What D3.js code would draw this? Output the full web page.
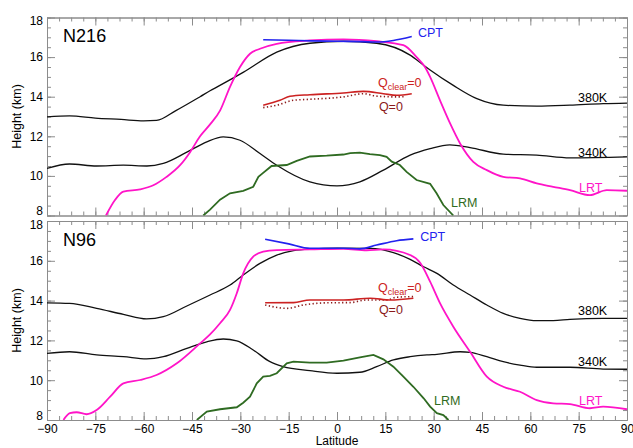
<!DOCTYPE html>
<html><head><meta charset="utf-8">
<script src="https://cdn.jsdelivr.net/npm/d3@7"></script>
<style>
html,body{margin:0;padding:0;background:#fff;}
svg text{font-family:"Liberation Sans",Arial,Helvetica,sans-serif;}
</style>
</head><body>
<svg id="chart" width="633" height="448"></svg>
<script>
// ---------- data ----------
const latTicks = [-90,-75,-60,-45,-30,-15,0,15,30,45,60,75,90];
const heightTicks = [8,10,12,14,16,18];
const panelNames = ["N216","N96"];

const n216_380K = [[-90,12.98],[-83,13.03],[-75,12.92],[-67,12.85],[-60,12.78],[-56,12.8],[-50,13.3],[-42.5,14.0],[-39.4,14.3],[-36.9,14.52],[-29,15.24],[-18.7,16.25],[-8.4,16.7],[2,16.8],[12.3,16.7],[22.7,16.1],[26.8,15.6],[28.9,15.35],[36.1,14.57],[43.4,13.9],[51.6,13.57],[62,13.52],[72.3,13.57],[82.6,13.65],[90,13.68]];
const n216_340K = [[-90,10.38],[-83,10.6],[-74.6,10.5],[-66.3,10.54],[-59,10.5],[-53.9,10.63],[-46.6,11.2],[-40.4,11.72],[-35.3,11.97],[-30.1,11.8],[-23.9,11.13],[-18.7,10.54],[-8.4,9.7],[0,9.5],[7.1,9.7],[14.4,10.29],[22.7,11.05],[28.9,11.38],[35,11.57],[41.3,11.43],[51.6,11.1],[62,11.05],[72.3,10.91],[90,10.96]];
const n216_LRT = [[-71.7,8.0],[-68.9,8.78],[-66.3,9.2],[-61.1,9.32],[-57,9.53],[-52.9,9.95],[-48.7,10.54],[-45.6,11.2],[-42.5,12.0],[-39.4,12.6],[-36.3,13.3],[-33.2,14.5],[-30.1,15.5],[-27,16.17],[-23.9,16.42],[-18.7,16.67],[-8.4,16.84],[2,16.9],[12.3,16.8],[20.6,16.6],[24.7,16.0],[27.3,15.5],[28.9,15.0],[32,13.8],[35.1,12.65],[38.2,11.64],[42.3,10.71],[46.5,10.29],[51.6,9.95],[56.8,9.87],[62,9.62],[67.1,9.45],[72.3,9.28],[78.5,9.03],[83.7,9.28],[90,9.25]];
const n216_LRM = [[-41.5,8.0],[-39.4,8.3],[-36.3,8.8],[-33.2,9.12],[-29.1,9.24],[-26,9.45],[-24.4,9.95],[-23.3,10.1],[-20.3,10.5],[-15.6,10.55],[-12.5,10.76],[-8.4,10.98],[-3.2,11.02],[2,11.08],[4.1,11.15],[7.1,11.18],[10.2,11.1],[13.3,11.05],[15.4,10.96],[17,10.72],[19.5,10.55],[21.6,10.2],[24.7,9.79],[28.9,9.6],[30.9,9.12],[33,8.53],[36.1,8.0]];
const n216_CPT = [[-22.9,16.88],[-15,16.85],[-8,16.82],[0,16.8],[8,16.78],[12.3,16.76],[17.5,16.84],[23.2,17.04]];
const n216_Qclear = [[-22.9,13.57],[-17.7,13.82],[-14.6,14.02],[-8.4,14.1],[2,14.19],[8.2,14.27],[14.4,14.15],[18.5,14.07],[23.2,14.15]];
const n216_Q0 = [[-22.9,13.45],[-18.7,13.57],[-13.5,13.82],[-8.4,13.87],[2,13.99],[8.2,14.15],[12.3,14.03],[18.5,13.99],[21,14.0]];

const n96_380K = [[-90,13.89],[-83,13.86],[-74.6,13.61],[-66.3,13.31],[-59.1,13.08],[-53.9,13.19],[-46.6,13.73],[-39.4,14.28],[-33.2,14.78],[-29.1,15.29],[-23.9,15.87],[-18.7,16.29],[-13.5,16.51],[-8.4,16.59],[0,16.63],[10.3,16.62],[17.5,16.41],[22.7,16.07],[26.9,15.7],[31,15.37],[36.1,14.78],[41.3,14.28],[46.5,13.78],[51.6,13.36],[56.8,13.11],[62,12.99],[67.1,12.99],[72.3,13.06],[82.6,13.11],[90,13.11]];
const n96_340K = [[-90,11.35],[-83,11.43],[-74.6,11.27],[-66.3,11.18],[-59.1,11.07],[-53.9,11.18],[-46.6,11.6],[-40.4,11.93],[-35.3,12.07],[-31.1,11.98],[-26,11.52],[-20.8,10.93],[-16.7,10.68],[-8.4,10.48],[0,10.35],[7.1,10.4],[12.3,10.68],[17.5,11.02],[22.7,11.18],[27.9,11.27],[31,11.3],[38.2,11.43],[41.3,11.4],[46.5,11.18],[51.6,10.93],[56.8,10.76],[62,10.65],[72.3,10.65],[82.6,10.56],[90,10.55]];
const n96_LRT = [[-84.9,8.0],[-82.9,8.34],[-80.8,8.39],[-77.7,8.29],[-74.6,8.5],[-70.4,9.17],[-66.3,9.84],[-61.1,10.01],[-56,10.26],[-49.7,10.85],[-42.5,11.85],[-39.4,12.3],[-36.3,12.86],[-33.2,13.53],[-31.1,14.37],[-29.1,15.37],[-26,16.21],[-22.9,16.46],[-18.7,16.54],[-8.4,16.57],[2,16.6],[9.2,16.53],[14.4,16.57],[22.7,16.29],[25.8,15.9],[28.9,14.95],[32,13.86],[36.1,12.69],[41.3,11.43],[46.5,10.18],[51.6,9.67],[56.8,9.42],[62,9.0],[67.1,8.84],[72.3,8.8],[78.5,8.59],[82.6,8.67],[90,8.54]];
const n96_LRM = [[-43.5,8.0],[-40.4,8.42],[-36.3,8.54],[-31.1,8.64],[-29.1,8.87],[-27,9.17],[-24.9,9.84],[-22.9,10.18],[-20.8,10.22],[-18.7,10.35],[-15.6,10.85],[-13.5,10.93],[-8.4,10.88],[-3.2,10.88],[2,10.98],[7.1,11.15],[11.3,11.27],[14.4,11.05],[17.5,10.68],[20.6,10.18],[23.7,9.67],[26.9,9.09],[28.9,8.67],[31,8.34],[33,8.25],[34.6,8.0]];
const n96_CPT = [[-22.3,17.08],[-15,16.85],[-8.4,16.63],[2,16.63],[7.1,16.6],[12.3,16.79],[18.5,17.01],[23.7,17.1]];
const n96_Qclear = [[-22.3,13.89],[-13.5,13.9],[-8.4,14.03],[2,14.03],[10.3,14.12],[16.5,14.03],[23.7,14.12]];
const n96_Q0 = [[-22.3,13.78],[-15.6,13.61],[-10.4,13.78],[-3.2,13.89],[4.1,13.9],[9.2,14.03],[15.4,14.03],[18.5,14.17],[23.7,14.2]];

// ---------- layout / style ----------
const W = 633, H = 448;
const X0 = 47, X1 = 627;
const panels = [
  {name: panelNames[0], top: 17.5, bottom: 215.5, showX: false,
   series: {k380: n216_380K, k340: n216_340K, lrt: n216_LRT, lrm: n216_LRM, cpt: n216_CPT, qc: n216_Qclear, q0: n216_Q0},
   labels: {cpt:[25.1,16.99], qc:[12.7,14.5], q0:[13.0,13.28], k380:[74.8,13.72], k340:[74.8,10.95], lrt:[75.1,9.18], lrm:[35.4,8.43], name:[-85,16.78]}},
  {name: panelNames[1], top: 221, bottom: 420, showX: true,
   series: {k380: n96_380K, k340: n96_340K, lrt: n96_LRT, lrm: n96_LRM, cpt: n96_CPT, qc: n96_Qclear, q0: n96_Q0},
   labels: {cpt:[25.8,16.99], qc:[12.7,14.45], q0:[13.0,13.33], k380:[74.8,13.28], k340:[74.8,10.73], lrt:[75.1,8.75], lrm:[30.1,8.73], name:[-85,16.74]}}
];
const C = {black:"#111", magenta:"#ff14c8", green:"#2f6b22", blue:"#2222ee", red:"#cc2222", dred:"#8b1a1a", axis:"#8c8c8c"};

const svg = d3.select("#chart");
svg.append("rect").attr("width",W).attr("height",H).attr("fill","#fff");

const x = d3.scaleLinear().domain([-90,90]).range([X0,X1]);
const minorLat = d3.range(-90, 90.01, 3.75);
const minorH = d3.range(8, 18.01, 0.5);

panels.forEach((p,i) => {
  const y = d3.scaleLinear().domain([8,18]).range([p.bottom,p.top]);
  const g = svg.append("g");
  const clipId = "clip"+i;
  svg.append("clipPath").attr("id",clipId).append("rect")
    .attr("x",X0).attr("y",p.top).attr("width",X1-X0).attr("height",p.bottom-p.top);

  // axes (inward ticks, IDL style)
  const axG = g.append("g").attr("class","axes");
  const styleAxis = sel => { sel.selectAll("path,line").attr("stroke",C.axis).attr("stroke-width",1);
                             sel.selectAll("text").attr("fill","#000").style("font-size","12px"); };
  axG.append("g").attr("transform",`translate(0,${p.bottom})`)
     .call(d3.axisBottom(x).tickValues(minorLat).tickSize(-4).tickFormat("").tickSizeOuter(0)).call(styleAxis);
  axG.append("g").attr("transform",`translate(0,${p.bottom})`)
     .call(d3.axisBottom(x).tickValues(latTicks).tickSize(-8).tickSizeOuter(0)
       .tickFormat(p.showX ? d3.format("d") : "").tickPadding(4)).call(styleAxis);
  axG.append("g").attr("transform",`translate(0,${p.top})`)
     .call(d3.axisTop(x).tickValues(minorLat).tickSize(-4).tickFormat("").tickSizeOuter(0)).call(styleAxis);
  axG.append("g").attr("transform",`translate(0,${p.top})`)
     .call(d3.axisTop(x).tickValues(latTicks).tickSize(-8).tickFormat("").tickSizeOuter(0)).call(styleAxis);
  axG.append("g").attr("transform",`translate(${X0},0)`)
     .call(d3.axisLeft(y).tickValues(minorH).tickSize(-4).tickFormat("").tickSizeOuter(0)).call(styleAxis);
  const yl = axG.append("g").attr("transform",`translate(${X0},0)`)
     .call(d3.axisLeft(y).tickValues(heightTicks).tickSize(-8).tickSizeOuter(0).tickPadding(4).tickFormat(d3.format("d"))).call(styleAxis);
  // IDL nudges the end labels inside the panel
  yl.selectAll(".tick text").attr("dy", d => d === 8 ? "-1px" : (d === 18 ? "7.3px" : "0.32em"));
  axG.append("g").attr("transform",`translate(${X1},0)`)
     .call(d3.axisRight(y).tickValues(minorH).tickSize(-4).tickFormat("").tickSizeOuter(0)).call(styleAxis);
  axG.append("g").attr("transform",`translate(${X1},0)`)
     .call(d3.axisRight(y).tickValues(heightTicks).tickSize(-8).tickFormat("").tickSizeOuter(0)).call(styleAxis);

  // y title
  g.append("text").attr("transform",`translate(21,${(p.top+p.bottom)/2}) rotate(-90)`)
    .attr("text-anchor","middle").style("font-size","12.5px").attr("fill","#000").text("Height (km)");

  const smooth = d3.line().x(d=>x(d[0])).y(d=>y(d[1])).curve(d3.curveMonotoneX);
  const lin = d3.line().x(d=>x(d[0])).y(d=>y(d[1])).curve(d3.curveLinear);
  const lg = g.append("g").attr("clip-path",`url(#${clipId})`).attr("fill","none");
  const s = p.series;
  lg.append("path").attr("d",smooth(s.k380)).attr("stroke",C.black).attr("stroke-width",1.3);
  lg.append("path").attr("d",smooth(s.k340)).attr("stroke",C.black).attr("stroke-width",1.3);
  lg.append("path").attr("d",lin(s.lrm)).attr("stroke",C.green).attr("stroke-width",1.8);
  lg.append("path").attr("d",smooth(s.lrt)).attr("stroke",C.magenta).attr("stroke-width",1.8);
  lg.append("path").attr("d",smooth(s.q0)).attr("stroke",C.dred).attr("stroke-width",1.6).attr("stroke-dasharray","1.3,2.4");
  lg.append("path").attr("d",smooth(s.qc)).attr("stroke",C.red).attr("stroke-width",1.6);
  lg.append("path").attr("d",smooth(s.cpt)).attr("stroke",C.blue).attr("stroke-width",1.6);

  // labels
  const L = p.labels;
  const lbl = (pos, txt, col, size) => g.append("text").attr("x",x(pos[0])).attr("y",y(pos[1]))
      .attr("fill",col).style("font-size",(size||12.5)+"px").text(txt);
  lbl(L.name, p.name, "#000", 18);
  lbl(L.cpt, "CPT", C.blue);
  lbl(L.q0, "Q=0", C.dred);
  lbl(L.k380, "380K", "#000");
  lbl(L.k340, "340K", "#000");
  lbl(L.lrt, "LRT", C.magenta);
  lbl(L.lrm, "LRM", C.green);
  const qt = g.append("text").attr("x",x(L.qc[0])).attr("y",y(L.qc[1])).attr("fill",C.red).style("font-size","12.5px");
  qt.append("tspan").text("Q");
  qt.append("tspan").attr("dy",3.5).style("font-size","9px").text("clear");
  qt.append("tspan").attr("dy",-3.5).text("=0");
});

svg.append("text").attr("x",x(0)).attr("y",445.2).attr("text-anchor","middle")
  .style("font-size","12px").attr("fill","#000").text("Latitude");
</script>
</body></html>
